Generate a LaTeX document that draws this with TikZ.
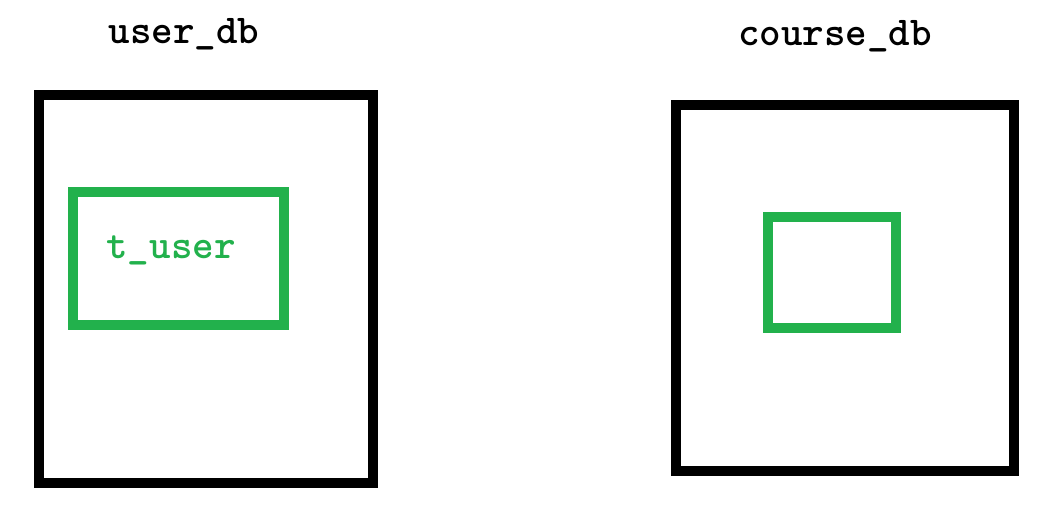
\documentclass[tikz,border=0pt]{standalone}
\usepackage{fontspec}
\definecolor{paintgreen}{RGB}{34,177,76}
\begin{document}
\begin{tikzpicture}[x=1pt,y=-1pt,
  dbbox/.style={draw=black,line width=10pt,rectangle,inner sep=0pt,outer sep=0pt},
  tblbox/.style={draw=paintgreen,line width=10pt,rectangle,inner sep=0pt,outer sep=0pt},
  lbl/.style={font=\fontsize{41}{44}\selectfont\ttfamily\bfseries,anchor=base,inner sep=0pt}]
\useasboundingbox[fill=white] (0,0) rectangle (1051,517);
\node[dbbox,minimum width=334pt,minimum height=388pt] (userdb) at (206,289) {};
\node[dbbox,minimum width=338pt,minimum height=366pt] (coursedb) at (845,288) {};
\node[tblbox,minimum width=211pt,minimum height=133pt] (tuser) at (178.5,258.5) {};
\node[tblbox,minimum width=128pt,minimum height=111pt] (tcourse) at (832,272.5) {};
\node[lbl] (userdblbl) at (184,43) {user\_db};
\node[lbl] (coursedblbl) at (835,45) {course\_db};
\node[lbl,text=paintgreen] (tuserlbl) at (171,258) {t\_user};
\end{tikzpicture}
\end{document}
